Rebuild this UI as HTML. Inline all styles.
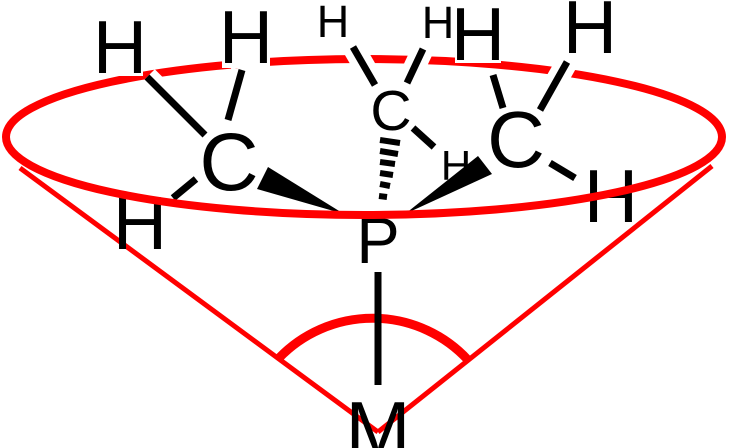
<!DOCTYPE html>
<html><head><style>html,body{margin:0;padding:0;background:#fff;width:729px;height:448px;overflow:hidden}svg{display:block}</style></head>
<body>
<svg width="729" height="448" viewBox="0 0 729 448" xmlns="http://www.w3.org/2000/svg" font-family="Liberation Sans, sans-serif" overflow="hidden">
<path d="M6,137 A358,78 0 0 1 722,137" fill="none" stroke="#f00" stroke-width="8"/>
<g stroke="#fff" stroke-width="22" fill="none">
<line x1="147" y1="77" x2="205" y2="135"/>
<line x1="242" y1="70" x2="228" y2="120"/>
<line x1="353" y1="47" x2="375" y2="85"/>
<line x1="423" y1="49" x2="407" y2="83"/>
<line x1="493" y1="75" x2="503" y2="108"/>
<line x1="567" y1="62" x2="540" y2="110"/>
</g>
<g fill="#fff">
<rect x="95" y="18" width="48" height="58"/>
<rect x="222" y="10" width="48" height="58"/>
<rect x="455" y="5" width="46" height="58"/>
<rect x="568" y="0" width="44" height="56"/>
</g>
<g stroke="#f00" stroke-width="5" fill="none">
<line x1="20" y1="168" x2="378" y2="432"/>
<line x1="712" y1="166" x2="378" y2="432"/>
</g>
<path d="M279,358 A130,130 0 0 1 468,360" fill="none" stroke="#f00" stroke-width="9"/>
<g stroke="#000" stroke-width="7" fill="none">
<line x1="147" y1="77" x2="205" y2="135"/>
<line x1="242" y1="70" x2="228" y2="120"/>
<line x1="196" y1="179" x2="173" y2="198"/>
<line x1="353" y1="47" x2="375" y2="85"/>
<line x1="423" y1="49" x2="407" y2="83"/>
<line x1="413" y1="128" x2="434" y2="147"/>
<line x1="493" y1="75" x2="503" y2="108"/>
<line x1="567" y1="62" x2="540" y2="110"/>
<line x1="550" y1="163" x2="575" y2="178"/>
<line x1="378" y1="272" x2="378" y2="385"/>
</g>
<polygon points="268,167 257,189 344,214" fill="#000"/>
<polygon points="478,156 492,174 405,214" fill="#000"/>
<g stroke="#000" stroke-width="6">
<line x1="380" y1="140" x2="400" y2="143"/>
<line x1="380" y1="151" x2="398" y2="154"/>
<line x1="380" y1="162" x2="395" y2="164"/>
<line x1="380" y1="173" x2="393" y2="175"/>
<line x1="380" y1="184" x2="390" y2="186"/>
<line x1="379" y1="196" x2="387" y2="197"/>
</g>
<g fill="#000" text-anchor="middle">
<text x="120" y="73" font-size="75">H</text>
<text x="246" y="63" font-size="75">H</text>
<text x="229" y="190" font-size="82">C</text>
<text x="140" y="249" font-size="75">H</text>
<text x="333" y="37" font-size="45">H</text>
<text x="438" y="38" font-size="45">H</text>
<text x="391" y="130" font-size="57">C</text>
<text x="456" y="180" font-size="42">H</text>
<text x="478" y="60" font-size="75">H</text>
<text x="590" y="53" font-size="75">H</text>
<text x="516" y="167" font-size="80">C</text>
<text x="611" y="222" font-size="75">H</text>
<text x="378" y="263" font-size="65">P</text>
<text x="378" y="456" font-size="78">M</text>
</g>
<path d="M6,137 A358,78 0 0 0 722,137" fill="none" stroke="#f00" stroke-width="8"/>
</svg>
</body></html>
